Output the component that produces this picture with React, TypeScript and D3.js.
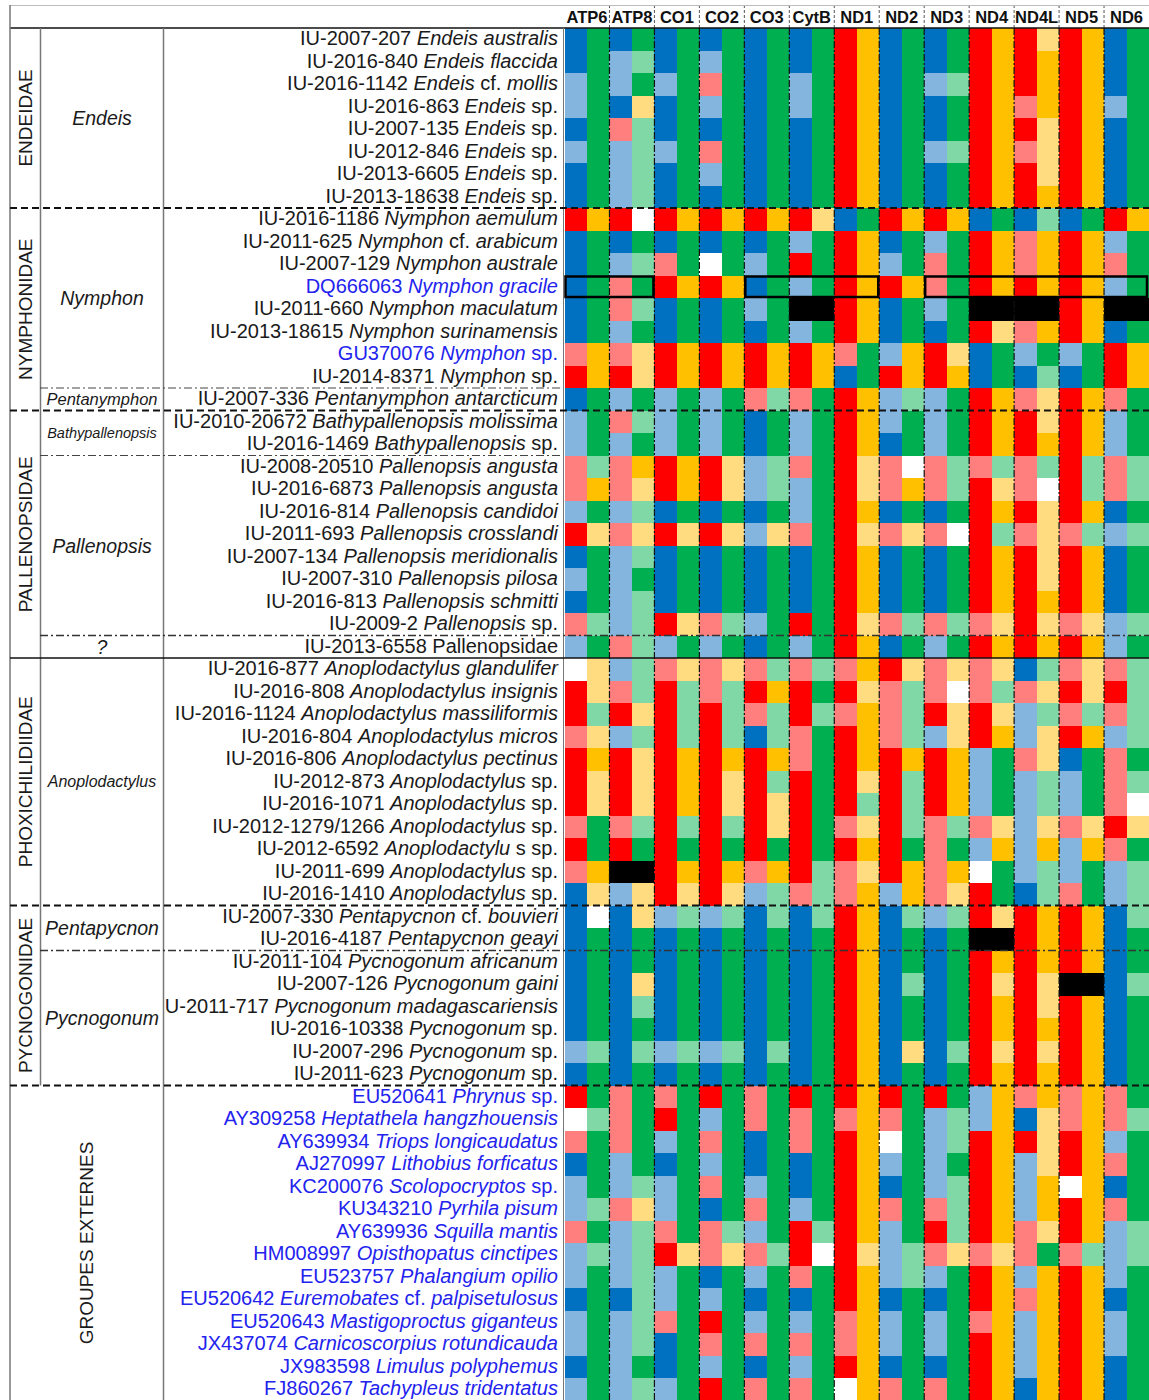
import * as d3 from 'd3'

// gene headers, each gene has two columns
const genes = ['ATP6', 'ATP8', 'CO1', 'CO2', 'CO3', 'CytB', 'ND1', 'ND2', 'ND3', 'ND4', 'ND4L', 'ND5', 'ND6']

// taxa labels, _..._ = italic
const taxa = [
  'IU-2007-207 _Endeis australis_',
  'IU-2016-840 _Endeis flaccida_',
  'IU-2016-1142 _Endeis_ cf. _mollis_',
  'IU-2016-863 _Endeis_ sp.',
  'IU-2007-135 _Endeis_ sp.',
  'IU-2012-846 _Endeis_ sp.',
  'IU-2013-6605 _Endeis_ sp.',
  'IU-2013-18638 _Endeis_ sp.',
  'IU-2016-1186 _Nymphon aemulum_',
  'IU-2011-625 _Nymphon_ cf. _arabicum_',
  'IU-2007-129 _Nymphon australe_',
  'DQ666063 _Nymphon gracile_',
  'IU-2011-660 _Nymphon maculatum_',
  'IU-2013-18615 _Nymphon surinamensis_',
  'GU370076 _Nymphon_ sp.',
  'IU-2014-8371 _Nymphon_ sp.',
  'IU-2007-336 _Pentanymphon antarcticum_',
  'IU-2010-20672 _Bathypallenopsis molissima_',
  'IU-2016-1469 _Bathypallenopsis_ sp.',
  'IU-2008-20510 _Pallenopsis angusta_',
  'IU-2016-6873 _Pallenopsis angusta_',
  'IU-2016-814 _Pallenopsis candidoi_',
  'IU-2011-693 _Pallenopsis crosslandi_',
  'IU-2007-134 _Pallenopsis meridionalis_',
  'IU-2007-310 _Pallenopsis pilosa_',
  'IU-2016-813 _Pallenopsis schmitti_',
  'IU-2009-2 _Pallenopsis_ sp.',
  'IU-2013-6558 Pallenopsidae',
  'IU-2016-877 _Anoplodactylus glandulifer_',
  'IU-2016-808 _Anoplodactylus insignis_',
  'IU-2016-1124 _Anoplodactylus massiliformis_',
  'IU-2016-804 _Anoplodactylus micros_',
  'IU-2016-806 _Anoplodactylus pectinus_',
  'IU-2012-873 _Anoplodactylus_ sp.',
  'IU-2016-1071 _Anoplodactylus_ sp.',
  'IU-2012-1279/1266 _Anoplodactylus_ sp.',
  'IU-2012-6592 _Anoplodactylu_ s sp.',
  'IU-2011-699 _Anoplodactylus_ sp.',
  'IU-2016-1410 _Anoplodactylus_ sp.',
  'IU-2007-330 _Pentapycnon_ cf. _bouvieri_',
  'IU-2016-4187 _Pentapycnon geayi_',
  'IU-2011-104 _Pycnogonum africanum_',
  'IU-2007-126 _Pycnogonum gaini_',
  'IU-2011-717 _Pycnogonum madagascariensis_',
  'IU-2016-10338 _Pycnogonum_ sp.',
  'IU-2007-296 _Pycnogonum_ sp.',
  'IU-2011-623 _Pycnogonum_ sp.',
  'EU520641 _Phrynus_ sp.',
  'AY309258 _Heptathela hangzhouensis_',
  'AY639934 _Triops longicaudatus_',
  'AJ270997 _Lithobius forficatus_',
  'KC200076 _Scolopocryptos_ sp.',
  'KU343210 _Pyrhila pisum_',
  'AY639936 _Squilla mantis_',
  'HM008997 _Opisthopatus cinctipes_',
  'EU523757 _Phalangium opilio_',
  'EU520642 _Euremobates_ cf. _palpisetulosus_',
  'EU520643 _Mastigoproctus giganteus_',
  'JX437074 _Carnicoscorpius rotundicauda_',
  'JX983598 _Limulus polyphemus_',
  'FJ860267 _Tachypleus tridentatus_',
]

// GenBank sequences (blue labels)
const genbankRows = [11, 14, 47, 48, 49, 50, 51, 52, 53, 54, 55, 56, 57, 58, 59, 60]

// cell codes per gene: 1st col B/b/R/r, 2nd col G/g/O/o, W white, K missing
const cells = [
  'BG BG BG BG BG BG RO BG BG RO Ro RO BG',
  'BG bg BG bG BG BG RO BG BG RO RO RO BG',
  'bG bG bG rG BG bG RO BG bg RO RO RO BG',
  'bG Bo BG bG BG bG RO BG BG RO rO RO bG',
  'BG rg BG BG BG BG RO BG BG RO Ro RO BG',
  'bG bg bG rG BG BG RO BG bg RO ro RO BG',
  'BG bg BG bG BG BG RO BG BG RO Ro RO BG',
  'BG bg BG BG BG BG RO BG BG RO RO RO BG',
  'RO RW RO RO RO Ro BG RO RO BG Bg BG RO',
  'BG BG BG BG BG bG RO BG bG RO rO RO bG',
  'BG bg rG WG bG RG RO bG rG RO rO RO rG',
  'BG rG RO RO BG bG RO RO rG RO RO RO bG',
  'BG rg BG BG bG KK RO BG bG KK KK RO KK',
  'BG bG BG BG BG bG RO BG BG Ro rO RO BG',
  'rO ro RO RO RO RO rG bO Ro BG bG bG RO',
  'RO Ro RO RO RO RO BG RO RO BG Bg BG RO',
  'BG bG bG bG rg rG RO bg bG RO ro RO rG',
  'bG rg bG bG BG bG RO bG bG RO Ro RO bG',
  'bG bG bG bG BG bG RO BG bG RO RO RO bG',
  'rg rO RO Ro bg rG Ro rW rg rg rg Rg rg',
  'rO ro RO Ro bg bG Ro rO rg Ro rW Rg rg',
  'bG bg BG BG BG bG RO BG BG RO Ro RO BG',
  'Ro ro Ro Ro bo rG Ro ro rW Rg ro rg bg',
  'BG bg BG BG BG BG RO BG BG RO Ro RO BG',
  'bG bG BG BG BG BG RO BG BG RO Ro RO BG',
  'BG bg BG BG BG BG RO BG BG RO RO RO BG',
  'rg bg Ro rg bG RG Ro rg rg ro Ro ro bg',
  'bG rg bG bG BG bG RO BG bG RO RO RO bG',
  'Wo bg ro ro rg rg rO Ro ro ro Bg ro rg',
  'Ro rg Rg rg RO RG Ro rg rW rg ro Ro Rg',
  'Rg Ro Rg Rg rg Rg rO rg Ro Ro bg rg rg',
  'ro bg Rg Rg Bg rG RO rg bo RO bo RO bg',
  'RO Ro RO RO RO rG RO RO RO bG ro BG rG',
  'Ro Ro RO Ro Rg RG Ro Rg RO bG bg bG rg',
  'Ro Ro RO Ro Ro RG Rg Rg RO bG bg bG rW',
  'rG rg Rg Rg Ro RG ro Rg rg ro bo ro Ro',
  'RG RG RG RG RG RG RO RG rG bO bO bO rG',
  'rO KK RO RO rO Rg ro RO rO WG bg bG bg',
  'Bo bo Ro Ro bg rg rO bO ro RG Bg rG bg',
  'BW Bo bg bg Bg Bg RO Bg bg Ro RO RO Bg',
  'BG BG BG BG BG BG RO BG BG KK RO RO BG',
  'BG BG BG BG BG BG RO BG BG RO RO RO BG',
  'BG Bo BG BG BG BG RO Bg BG Ro Ro KK Bg',
  'BG Bg BG BG BG BG RO BG BG RO Ro RO BG',
  'BG BG BG BG BG BG RO BG BG RO RO RO BG',
  'bg Bg bg bg Bg BG RO Bo Bg Ro Ro RO BG',
  'BG BG BG BG BG BG RO BG BG RO RO RO BG',
  'RG rG rG RG rG RG RO RG RG bO rO rO rG',
  'Wg rG RG bG rG rG rO rG bg bO Bo rO rg',
  'rG rG bG rG BG rG RO WG bg RO Ro RO bG',
  'BG bG BG bG BG BG RO bG bG RO bo RO rG',
  'bG bg bG rG bG BG RO BG bg RO bO WO BG',
  'bg ro bG BG rG bG RO rG rg RO bO RO rG',
  'rG bg rG rg bG Rg RO bG Rg RO ro RO bg',
  'bg bg Ro ro rg RW Ro bg ro ro rG rg bg',
  'bG bg bG BG bG rG RO bg bG RO bO RO bG',
  'BG Bg bG bG BG BG RO BG BG RO rO RO BG',
  'bG bg rG RG bG bG rO bG bG rO bO RO bG',
  'bG bg BG rG rG rG rO bG bG RO bO RO bG',
  'BG bG BG bG BG bG RO BG BG RO bO RO BG',
  'bG bg bG RG rG rG WO rG rG RO BO RO BG',
]

const families = ['ENDEIDAE', 'NYMPHONIDAE', 'PALLENOPSIDAE', 'PHOXICHILIDIIDAE', 'PYCNOGONIDAE', 'GROUPES EXTERNES']
const familyRows = [[0, 7], [8, 16], [17, 27], [28, 38], [39, 46], [47, 60]]

const genera = ['Endeis', 'Nymphon', 'Pentanymphon', 'Bathypallenopsis', 'Pallenopsis', '?', 'Anoplodactylus', 'Pentapycnon', 'Pycnogonum']
const genusRows = [[0, 7], [8, 15], [16, 16], [17, 18], [19, 26], [27, 27], [28, 38], [39, 40], [41, 46]]

// DQ666063 row: framed gene blocks
const framedRow = 11
const framedGenes = [['ATP6', 'ATP8'], ['CO3', 'ND1'], ['ND3', 'ND6']]

const codes = ['B', 'b', 'R', 'r', 'G', 'g', 'O', 'o', 'W', 'K']
const palette = ['#0070C0', '#83B5DF', '#FF0000', '#FF7F7F', '#00B050', '#80D8A6', '#FFC000', '#FFDC7F', '#FFFFFF', '#000000']

const genusSize: Record<string, number> = { Pentanymphon: 16.5, Bathypallenopsis: 14.5, Anoplodactylus: 16 }

const W = 1149
const H = 1400
const FONT = '"Liberation Sans", Arial, sans-serif'

function Label({ text, x, y, color }: { text: string; x: number; y: number; color: string }) {
  const parts = text.split('_')
  return (
    <text x={x} y={y} textAnchor="end" dominantBaseline="central" fontSize={20} fill={color} fontFamily={FONT}>
      {parts.map((p, i) => (
        <tspan key={i} fontStyle={i % 2 ? 'italic' : 'normal'}>{p}</tspan>
      ))}
    </text>
  )
}

export default function App() {
  const gridLeft = 564.5
  const top = 28
  const color = d3.scaleOrdinal<string, string>().domain(codes).range(palette)
  const col = d3.scaleBand<number>().domain(d3.range(genes.length * 2)).range([gridLeft, W])
  const geneX = d3.scaleBand<string>().domain(genes).range([gridLeft, W])
  const row = d3.scaleBand<number>().domain(d3.range(taxa.length)).range([top, top + taxa.length * 22.5])
  const rowTop = (i: number) => row(i) as number
  const rowBottom = (i: number) => rowTop(i) + row.bandwidth()

  const familySeps = [familyRows[1][0], familyRows[2][0], familyRows[4][0], familyRows[5][0]]
  const solidSep = familyRows[3][0]
  const genusSepsShort = [genusRows[2][0], genusRows[4][0]]
  const genusSepsLong = [genusRows[5][0], genusRows[8][0]]

  return (
    <div style={{ position: 'absolute', left: 0, top: 0 }}>
      <svg width={W} height={H} style={{ display: 'block', background: '#fff' }}>
        <defs>
          <clipPath id="spcol">
            <rect x={164} y={top} width={gridLeft - 164} height={H - top} />
          </clipPath>
        </defs>

        {/* cells */}
        <g shapeRendering="crispEdges">
          {cells.map((r, i) =>
            r.split(' ').join('').split('').map((c, j) => (
              <rect key={i + '-' + j} x={col(j)} y={rowTop(i)} width={col.bandwidth() + 0.6} height={row.bandwidth() + 0.6} fill={color(c)} />
            ))
          )}
        </g>

        {/* gene separators */}
        {genes.slice(1).map(g => (
          <g key={g}>
            <line x1={geneX(g)} x2={geneX(g)} y1={5} y2={top} stroke="#555" strokeWidth={1} strokeDasharray="3 2" />
            <line x1={geneX(g)} x2={geneX(g)} y1={top} y2={H} stroke="#111" strokeWidth={1.2} strokeDasharray="7 2 2 2" />
          </g>
        ))}

        {/* header */}
        {genes.map(g => (
          <text key={g} x={(geneX(g) as number) + geneX.bandwidth() / 2} y={17} textAnchor="middle" dominantBaseline="central"
            fontSize={16.5} fontWeight="bold" fontFamily={FONT} fill="#111">{g}</text>
        ))}
        <line x1={10} x2={W} y1={5.5} y2={5.5} stroke="#bbb" strokeWidth={1} />
        <line x1={10} x2={W} y1={top} y2={top} stroke="#111" strokeWidth={1.5} />

        {/* left frame */}
        <line x1={10} x2={10} y1={5} y2={H} stroke="#777" strokeWidth={1.5} />
        <line x1={40.5} x2={40.5} y1={top} y2={rowTop(familyRows[5][0])} stroke="#777" strokeWidth={1.5} />
        <line x1={163.5} x2={163.5} y1={top} y2={H} stroke="#777" strokeWidth={1.5} />
        <line x1={563.5} x2={563.5} y1={top} y2={H} stroke="#777" strokeWidth={1} />

        {/* separators */}
        {genusSepsShort.map(r => (
          <line key={'gs' + r} x1={40} x2={563} y1={rowTop(r)} y2={rowTop(r)} stroke="#444" strokeWidth={1.2} strokeDasharray="8 3 2 3" />
        ))}
        {genusSepsLong.map(r => (
          <line key={'gl' + r} x1={40} x2={W} y1={rowTop(r)} y2={rowTop(r)} stroke="#333" strokeWidth={1.3} strokeDasharray="8 3 2 3" />
        ))}
        {familySeps.map(r => (
          <line key={'f' + r} x1={10} x2={W} y1={rowTop(r)} y2={rowTop(r)} stroke="#111" strokeWidth={2} strokeDasharray="7 4" />
        ))}
        <line x1={10} x2={W} y1={rowTop(solidSep)} y2={rowTop(solidSep)} stroke="#111" strokeWidth={1.5} />

        {/* framed blocks */}
        {framedGenes.map(([a, b]) => {
          const x0 = geneX(a) as number
          const x1 = Math.min((geneX(b) as number) + geneX.bandwidth(), W - 1)
          return (
            <rect key={a} x={x0 + 1} y={rowTop(framedRow) + 1} width={x1 - x0 - 2} height={row.bandwidth() - 2}
              fill="none" stroke="#000" strokeWidth={2.5} />
          )
        })}

        {/* taxa names */}
        <g clipPath="url(#spcol)">
          {taxa.map((t, i) => (
            <Label key={t + i} text={t} x={558} y={rowTop(i) + row.bandwidth() / 2 - 1}
              color={genbankRows.includes(i) ? '#2323EE' : '#1a1a1a'} />
          ))}
        </g>

        {/* genera */}
        {genera.map((g, i) => {
          const [a, b] = genusRows[i]
          const cy = (rowTop(a) + rowBottom(b)) / 2
          return (
            <text key={g} x={102} y={cy} textAnchor="middle" dominantBaseline="central" fontStyle="italic"
              fontSize={genusSize[g] || 19.5} fontFamily={FONT} fill="#1a1a1a">{g}</text>
          )
        })}

        {/* families */}
        {families.map((f, i) => {
          const [a, b] = familyRows[i]
          const cy = (rowTop(a) + rowBottom(b)) / 2
          const cx = i === families.length - 1 ? 86 : 25.5
          return (
            <text key={f} transform={`translate(${cx},${cy}) rotate(-90)`} textAnchor="middle" dominantBaseline="central"
              fontSize={19} fontFamily={FONT} fill="#1a1a1a">{f}</text>
          )
        })}
      </svg>
    </div>
  )
}
